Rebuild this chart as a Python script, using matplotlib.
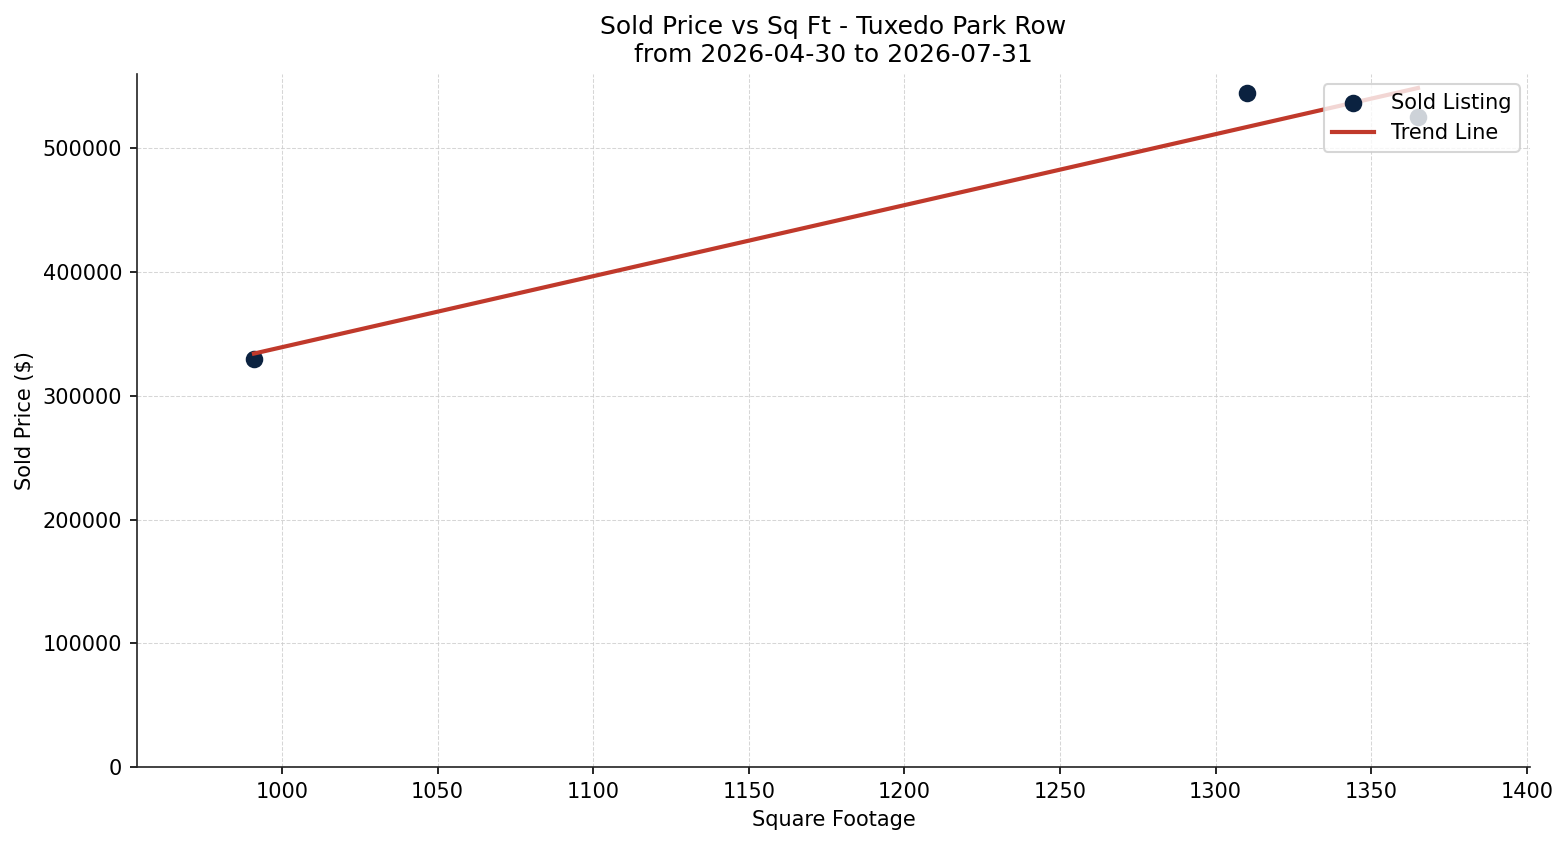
import numpy as np
import matplotlib
matplotlib.use("Agg")
import matplotlib.pyplot as plt

# sold listings
sq_ft = [991, 1310, 1365]
sold_price = [330000, 545000, 525000]

title = "Sold Price vs Sq Ft - Tuxedo Park Row\nfrom 2026-04-30 to 2026-07-31"

fig = plt.figure(figsize=(1567 / 150, 845 / 150), dpi=150)
ax = fig.add_axes([0.0874, 0.0923, 0.8890, 0.8201])

ax.scatter(sq_ft, sold_price, s=55, color="#0b2240", zorder=2, label="Sold Listing")

# least squares trend line
coef = np.polyfit(sq_ft, sold_price, 1)
xs = np.array([min(sq_ft), max(sq_ft)])
ax.plot(xs, np.polyval(coef, xs), color="#c0392b", lw=2, zorder=3, label="Trend Line")

ax.set_xlim(953.4, 1401)
ax.set_ylim(0, 560000)
ax.set_title(title, fontsize=12)
ax.set_xlabel("Square Footage", fontsize=10)
ax.set_ylabel("Sold Price ($)", fontsize=10)
ax.tick_params(labelsize=10)
ax.grid(True, linestyle="--", linewidth=0.5, color="#cccccc", alpha=0.8)
ax.set_axisbelow(True)
for side in ["top", "right"]:
    ax.spines[side].set_visible(False)
for side in ["left", "bottom"]:
    ax.spines[side].set_color("#222222")
ax.legend(loc="upper right", fontsize=10)

fig.savefig("out.png", dpi=150)
